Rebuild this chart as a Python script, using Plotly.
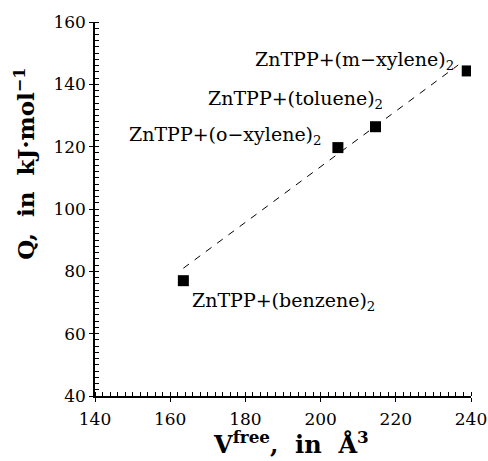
import plotly.graph_objects as go

# Data
labels = ["ZnTPP+(benzene)<sub>2</sub>", "ZnTPP+(o\u2212xylene)<sub>2</sub>",
          "ZnTPP+(toluene)<sub>2</sub>", "ZnTPP+(m\u2212xylene)<sub>2</sub>"]
v_free = [163.5, 204.6, 214.6, 239.0]
q_vals = [77.0, 119.7, 126.4, 144.3]
fit_x = [163.5, 236.6]
fit_y = [81.0, 146.2]

# label placement (data coords) and anchors
lab_x = [165.3, 201.0, 217.1, 236.0]
lab_y = [70.2, 123.7, 135.0, 147.5]
lab_anchor = ["left", "right", "right", "right"]

FONT = "DejaVu Serif"

fig = go.Figure()
fig.add_trace(go.Scatter(x=fit_x, y=fit_y, mode="lines",
                         line=dict(color="black", width=1, dash="7px,7px"),
                         showlegend=False, hoverinfo="skip"))
fig.add_trace(go.Scatter(x=v_free, y=q_vals, mode="markers",
                         marker=dict(symbol="square", size=11, color="black"),
                         showlegend=False))

for t, x, y, a in zip(labels, lab_x, lab_y, lab_anchor):
    fig.add_annotation(x=x, y=y, xref="x", yref="y", text=t, showarrow=False,
                       xanchor=a, yanchor="middle",
                       font=dict(family=FONT, size=19, color="black"))

# axis titles as annotations
fig.add_annotation(x=-0.187, y=0.62, xref="paper", yref="paper",
                   text="Q,\u00a0\u00a0in\u00a0\u00a0kJ\u00b7mol<sup>\u22121</sup>",
                   textangle=-90, showarrow=False, xanchor="center", yanchor="middle",
                   font=dict(family=FONT, size=23, color="black", weight="bold"))
fig.add_annotation(x=0.521, y=-0.175, xref="paper", yref="paper",
                   text="V<sup>free</sup>,\u00a0\u00a0in\u00a0\u00a0\u00c5<sup>3</sup>",
                   showarrow=False, xanchor="center", yanchor="bottom",
                   font=dict(family=FONT, size=24, color="black", weight="bold"))

axis_common = dict(showline=True, linecolor="black", linewidth=1.5, mirror=False,
                   showgrid=False, zeroline=False, ticks="outside", ticklen=4,
                   tickcolor="black", tickwidth=1.2, automargin=False,
                   tickfont=dict(family=FONT, size=17, color="black"))

fig.update_xaxes(range=[140, 240], dtick=20, tick0=140, ticklabelstandoff=3,
                 minor=dict(dtick=2, ticks="inside", ticklen=4, tickcolor="black", tickwidth=1),
                 **axis_common)
fig.update_yaxes(range=[40, 160], dtick=20, tick0=40,
                 minor=dict(dtick=2, ticks="inside", ticklen=4, tickcolor="black", tickwidth=1),
                 **axis_common)

fig.update_layout(width=488, height=461,
                  margin=dict(l=95, r=17, t=22, b=65),
                  plot_bgcolor="white", paper_bgcolor="white")

fig.write_html("out.html")
